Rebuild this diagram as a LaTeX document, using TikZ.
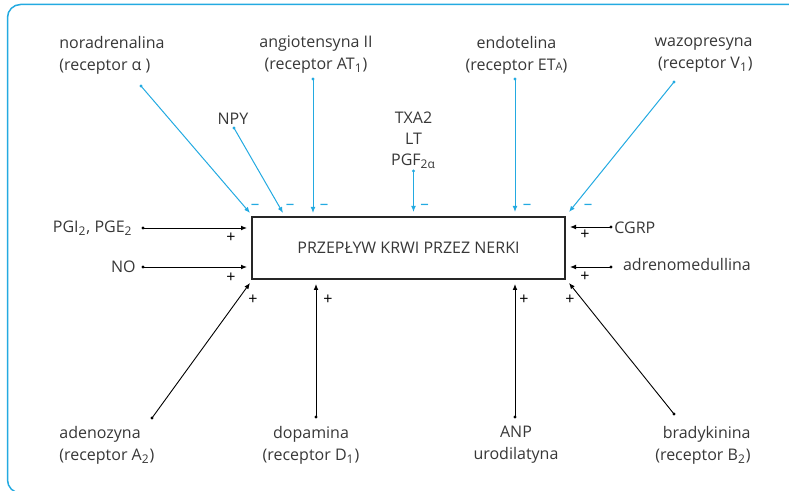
\documentclass[tikz,border=0pt]{standalone}
\usepackage{fontspec}
\setmainfont{Open Sans}
\usetikzlibrary{arrows.meta}

\definecolor{inhblue}{RGB}{35,170,225}
\definecolor{txtgray}{RGB}{55,55,55}

\tikzset{
  lbl/.style={text=txtgray, inner sep=0pt, align=center, font=\fontsize{8}{11}\selectfont},
  sgn/.style={inner sep=0pt, font=\fontsize{8}{8}\selectfont},
  stim/.style={draw=black, line width=0.45pt, -{Latex[length=3pt,width=2.4pt]}},
  inhib/.style={draw=inhblue, line width=0.5pt, -{Latex[length=3pt,width=2.4pt]}},
}
\newcommand{\smallA}{{\fontsize{5.5}{6}\selectfont A}}

\begin{document}
\begin{tikzpicture}[x=0.5pt, y=-0.5pt]
    \useasboundingbox (0,0) rectangle (789,491);
    \clip (0,0) rectangle (789,491);

    % outer frame
    \draw[inhblue, line width=0.75pt, rounded corners=6.5pt] (7.5,4.5) rectangle (900,493);

    % central box
    \node[lbl, draw=black!85, line width=0.55pt, minimum width=156.5pt, minimum height=31pt] (flow) at (408.5,248) {PRZEPŁYW KRWI PRZEZ NERKI};

    % labels above
    \node[lbl, anchor=west, align=left] (na) at (59,55) {noradrenalina\\(receptor α )};
    \node[lbl] (npy) at (233,118.5) {NPY};
    \node[lbl] (ang) at (316,55) {angiotensyna II\\(receptor AT\textsubscript{1})};
    \node[lbl, font=\fontsize{8}{10.5}\selectfont] (txa) at (413.5,140) {TXA2\\LT\\PGF\textsubscript{2α}};
    \node[lbl] (et) at (516.5,55) {endotelina\\(receptor ET\smallA)};
    \node[lbl, anchor=east, align=right] (wazo) at (753,55) {wazopresyna\\(receptor V\textsubscript{1})};

    % labels at the sides
    \node[lbl, anchor=east] (pg) at (133,228) {PGI\textsubscript{2}, PGE\textsubscript{2}};
    \node[lbl, anchor=east] (no) at (136,266.5) {NO};
    \node[lbl, anchor=west] (cgrp) at (614,227.5) {CGRP};
    \node[lbl, anchor=west] (adm) at (622.7,265) {adrenomedullina};

    % labels below
    \node[lbl, anchor=west, align=left] (ado) at (59,445) {adenozyna\\(receptor A\textsubscript{2})};
    \node[lbl] (dop) at (311,445) {dopamina\\(receptor D\textsubscript{1})};
    \node[lbl] (anp) at (516,445) {ANP\\urodilatyna};
    \node[lbl, anchor=east, align=right] (bk) at (751,445) {bradykinina\\(receptor B\textsubscript{2})};

    % start and end points of the arrows
    \coordinate (na-s) at (141,86);    \coordinate (na-e) at (250,213);
    \coordinate (npy-s) at (234,128);  \coordinate (npy-e) at (283,213);
    \coordinate (ang-s) at (313,79);   \coordinate (ang-e) at (313,213);
    \coordinate (txa-s) at (413.5,171);\coordinate (txa-e) at (413.5,212);
    \coordinate (et-s) at (515,79);    \coordinate (et-e) at (515,212);
    \coordinate (wazo-s) at (674,82);  \coordinate (wazo-e) at (569,212);
    \coordinate (pg-s) at (143,228);   \coordinate (pg-e) at (247,228);
    \coordinate (no-s) at (143,267);   \coordinate (no-e) at (247,267);
    \coordinate (cgrp-s) at (611,227); \coordinate (cgrp-e) at (570,227);
    \coordinate (adm-s) at (611,267);  \coordinate (adm-e) at (570,267);
    \coordinate (ado-s) at (152,418);  \coordinate (ado-e) at (250,283);
    \coordinate (dop-s) at (316,417);  \coordinate (dop-e) at (316,284);
    \coordinate (anp-s) at (515,417);  \coordinate (anp-e) at (515,284);
    \coordinate (bk-s) at (674,414);   \coordinate (bk-e) at (569,283);

    % inhibiting factors
    \foreach \f in {na,npy,ang,txa,et,wazo} {
        \draw[inhib] (\f-s) -- (\f-e);
        \fill[inhblue] (\f-s) circle (1.6);
    }
    % stimulating factors
    \foreach \f in {pg,no,cgrp,adm,ado,dop,anp,bk} {
        \draw[stim] (\f-s) -- (\f-e);
        \fill (\f-s) circle (1.6);
    }

    % signs
    \foreach \x [count=\i] in {255,290,324,424.5,527,588}
        \node[sgn, text=inhblue, font=\fontsize{8.5}{8.5}\selectfont] (m\i) at (\x,207) {–};
    \node[sgn] (p1) at (231,237.5) {+};
    \node[sgn] (p2) at (231,277.5) {+};
    \node[sgn] (p3) at (585,235) {+};
    \node[sgn] (p4) at (585,277) {+};
    \node[sgn] (p5) at (253,299.5) {+};
    \node[sgn] (p6) at (328,299.5) {+};
    \node[sgn] (p7) at (524,299.5) {+};
    \node[sgn] (p8) at (570,299.5) {+};
\end{tikzpicture}
\end{document}
